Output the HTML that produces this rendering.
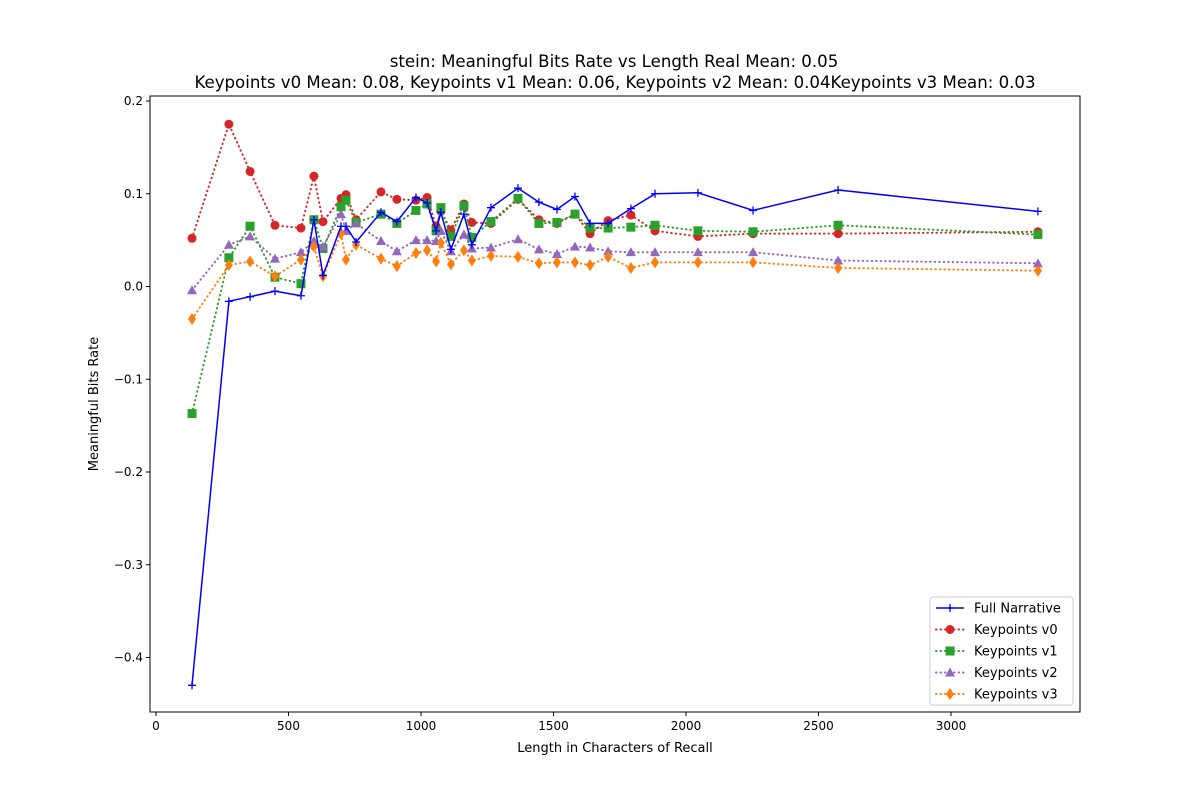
<!DOCTYPE html>
<html><head><meta charset="utf-8"><style>
body{margin:0;background:#fff;font-family:"Liberation Sans","DejaVu Sans",sans-serif}
svg text{font-family:"DejaVu Sans","Liberation Sans",sans-serif}
</style></head><body>
<svg id="chart" width="1200" height="800" xmlns="http://www.w3.org/2000/svg"></svg>
<script>
const xs=[136,275,355,449,547,596,630,698,717,755,849,909,981,1023,1057,1075,1113,1162,1192,1264,1366,1445,1513,1581,1638,1706,1792,1883,2045,2253,2574,3328];
const fullNarrative=[-0.43,-0.016,-0.011,-0.005,-0.01,0.072,0.012,0.065,0.065,0.048,0.08,0.07,0.096,0.09,0.06,0.08,0.04,0.078,0.045,0.085,0.106,0.091,0.083,0.097,0.068,0.068,0.084,0.1,0.101,0.082,0.104,0.081];
const kp0=[0.052,0.175,0.124,0.066,0.063,0.119,0.070,0.095,0.099,0.072,0.102,0.094,0.093,0.096,0.065,0.081,0.061,0.089,0.069,0.068,0.094,0.072,0.068,0.078,0.057,0.071,0.077,0.060,0.054,0.057,0.057,0.059];
const kp1=[-0.137,0.031,0.065,0.010,0.003,0.072,0.041,0.086,0.093,0.069,0.078,0.068,0.082,0.089,0.060,0.085,0.054,0.087,0.053,0.070,0.095,0.068,0.069,0.078,0.063,0.063,0.064,0.066,0.060,0.059,0.066,0.056];
const kp2=[-0.004,0.045,0.054,0.030,0.037,0.049,0.043,0.078,0.060,0.068,0.049,0.038,0.050,0.050,0.049,0.060,0.038,0.056,0.041,0.042,0.051,0.040,0.035,0.043,0.042,0.038,0.037,0.037,0.037,0.037,0.028,0.025];
const kp3=[-0.035,0.023,0.027,0.011,0.029,0.043,0.011,0.057,0.029,0.045,0.030,0.022,0.036,0.039,0.027,0.047,0.024,0.039,0.028,0.033,0.032,0.025,0.026,0.026,0.023,0.032,0.020,0.026,0.026,0.026,0.020,0.017];
const xTicks=[0,500,1000,1500,2000,2500,3000];
const yTicks=[-0.4,-0.3,-0.2,-0.1,0.0,0.1,0.2];
const legendLabels=["Full Narrative","Keypoints v0","Keypoints v1","Keypoints v2","Keypoints v3"];

const svg=document.getElementById('chart');
const NS="http://www.w3.org/2000/svg";
const L=150,R=1080,T=96,B=712;
function X(v){return 156+v*0.265;}
function Y(v){return 286.5-v*927.5;}
function mk(tag,attrs,parent){const e=document.createElementNS(NS,tag);for(const k in attrs)e.setAttribute(k,attrs[k]);(parent||svg).appendChild(e);return e;}
function txt(s,attrs,parent){const e=mk('text',attrs,parent);e.textContent=s;return e;}

const t1=txt("stein: Meaningful Bits Rate vs Length Real Mean: 0.05",{x:614,y:67,'text-anchor':'middle','font-size':16.6});


const t2=txt("Keypoints v0 Mean: 0.08, Keypoints v1 Mean: 0.06, Keypoints v2 Mean: 0.04Keypoints v3 Mean: 0.03",{x:615,y:88,'text-anchor':'middle','font-size':16.6});



xTicks.forEach(v=>{
  const g=mk('g',{});
  
  
  mk('line',{x1:X(v),x2:X(v),y1:B,y2:B+4,stroke:'#000'},g);
  txt(String(v),{x:X(v),y:B+18,'text-anchor':'middle','font-size':12},g);
});
yTicks.forEach(v=>{
  const g=mk('g',{});
  
  
  mk('line',{x1:L-4,x2:L,y1:Y(v),y2:Y(v),stroke:'#000'},g);
  txt((v<0?'\u2212':'')+Math.abs(v).toFixed(1),{x:L-7,y:Y(v)+4,'text-anchor':'end','font-size':12},g);
});
const xl=txt("Length in Characters of Recall",{x:615,y:752,'text-anchor':'middle','font-size':13});


const yl=txt("Meaningful Bits Rate",{x:0,y:0,'text-anchor':'middle','font-size':13,transform:'translate(98,404) rotate(-90)'});



function marker(type,x,y,c,p){
  if(type==='plus'){mk('path',{d:`M${x-4},${y}H${x+4}M${x},${y-4}V${y+4}`,stroke:c,'stroke-width':1.3},p);}
  else if(type==='circle'){mk('circle',{cx:x,cy:y,r:4.5,fill:c},p);}
  else if(type==='square'){mk('rect',{x:x-4.5,y:y-4.5,width:9,height:9,fill:c},p);}
  else if(type==='tri'){mk('path',{d:`M${x},${y-5}L${x+5},${y+4}L${x-5},${y+4}Z`,fill:c},p);}
  else if(type==='diamond'){mk('path',{d:`M${x},${y-6}L${x+4},${y}L${x},${y+6}L${x-4},${y}Z`,fill:c},p);}
}
const series=[
 {name:'full-narrative',vals:fullNarrative,c:'#0000ff',m:'plus',dash:null},
 {name:'keypoints-v0',vals:kp0,c:'#d62728',m:'circle',dash:'0.5,4'},
 {name:'keypoints-v1',vals:kp1,c:'#2ca02c',m:'square',dash:'0.5,4'},
 {name:'keypoints-v2',vals:kp2,c:'#9467bd',m:'tri',dash:'0.5,4'},
 {name:'keypoints-v3',vals:kp3,c:'#ff7f0e',m:'diamond',dash:'0.5,4'}
];
const order=[1,2,3,4,0];
order.forEach(i=>{
  const s=series[i];
  const g=mk('g',{});
  
  
  const pts=xs.map((x,j)=>X(x).toFixed(1)+','+Y(s.vals[j]).toFixed(1)).join(' ');
  const pl=mk('polyline',{points:pts,fill:'none',stroke:s.c,'stroke-width':s.dash?2:1.5},g);
  if(s.dash){pl.setAttribute('stroke-dasharray',s.dash);pl.setAttribute('stroke-linecap','round');}
  xs.forEach((x,j)=>marker(s.m,X(x),Y(s.vals[j]),s.c,g));
});
const frame=mk('rect',{x:L,y:T,width:R-L,height:B-T,fill:'none',stroke:'#000','stroke-width':1});



const lg=mk('g',{});


mk('rect',{x:930,y:597,width:143,height:108,rx:3,fill:'#fff',stroke:'#ccc'},lg);
series.forEach((s,i)=>{
  const y=608+i*21.5;
  const e=mk('g',{},lg);
  
  
  const ln=mk('line',{x1:936,x2:964,y1:y,y2:y,stroke:s.c,'stroke-width':s.dash?2:1.5},e);
  if(s.dash){ln.setAttribute('stroke-dasharray',s.dash);ln.setAttribute('stroke-linecap','round');}
  marker(s.m,950,y,s.c,e);
  txt(legendLabels[i],{x:974,y:y+4.5,'font-size':13},e);
});
</script>
</body></html>
